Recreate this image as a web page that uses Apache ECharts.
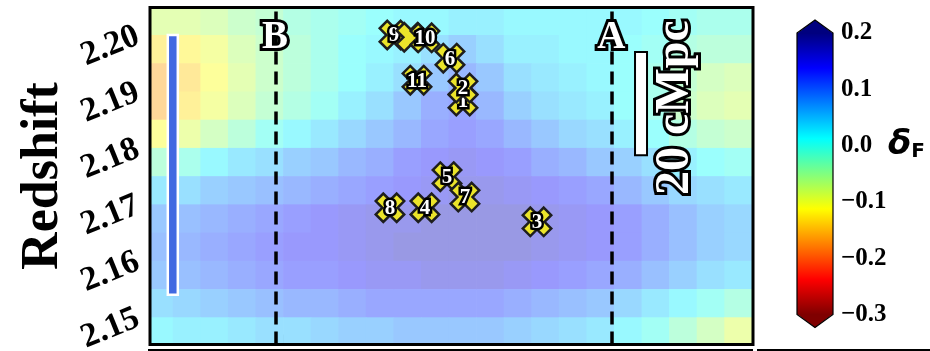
<!DOCTYPE html>
<html>
<head>
<meta charset="utf-8">
<script src="https://cdn.jsdelivr.net/npm/echarts@6/dist/echarts.min.js"></script>
<style>
  html, body { margin: 0; padding: 0; background: #fff; }
  #chart { width: 930px; height: 351px; }
</style>
</head>
<body>
<div id="chart"></div>
<script>
// Transverse position of each map column (one unit per x tick)
const colX = [-0.125, 0.125, 0.375, 0.625, 0.875, 1.125, 1.375, 1.625, 1.875, 2.125, 2.375, 2.625,
              2.875, 3.125, 3.375, 3.625, 3.875, 4.125, 4.375, 4.625, 4.875, 5.125, 5.375];
// Redshift of each map row, top to bottom
const rowZ = [2.2025, 2.1975, 2.1925, 2.1875, 2.1825, 2.1775, 2.1725, 2.1675, 2.1625, 2.1575, 2.1525, 2.1475];
// Flux contrast delta_F per cell, one row per redshift above
const deltaF = [
  [-0.08,-0.08,-0.07,-0.05,-0.04,-0.02,-0.01, 0.00, 0.01, 0.02, 0.02, 0.03, 0.03, 0.02, 0.02, 0.02, 0.02, 0.02, 0.01, 0.00,-0.01,-0.01,-0.01],
  [-0.13,-0.12,-0.10,-0.07,-0.05,-0.03,-0.01, 0.01, 0.02, 0.03, 0.05, 0.07, 0.05, 0.03, 0.03, 0.02, 0.02, 0.01, 0.00,-0.02,-0.03,-0.03,-0.03],
  [-0.16,-0.14,-0.11,-0.08,-0.05,-0.03,-0.01, 0.01, 0.03, 0.05, 0.08, 0.10, 0.08, 0.05, 0.04, 0.03, 0.02, 0.01,-0.01,-0.04,-0.06,-0.07,-0.05],
  [-0.16,-0.13,-0.10,-0.07,-0.04,-0.02, 0.00, 0.03, 0.05, 0.08, 0.11, 0.12, 0.10, 0.07, 0.05, 0.04, 0.03, 0.01,-0.01,-0.05,-0.07,-0.08,-0.06],
  [-0.11,-0.09,-0.06,-0.03, 0.00, 0.02, 0.04, 0.06, 0.08, 0.10, 0.12, 0.13, 0.12, 0.10, 0.08, 0.06, 0.05, 0.03, 0.01,-0.02,-0.04,-0.05,-0.04],
  [-0.03,-0.01, 0.02, 0.04, 0.05, 0.07, 0.08, 0.10, 0.11, 0.13, 0.14, 0.15, 0.14, 0.13, 0.11, 0.10, 0.08, 0.07, 0.05, 0.03, 0.01, 0.00, 0.00],
  [ 0.04, 0.05, 0.07, 0.08, 0.09, 0.10, 0.11, 0.12, 0.13, 0.14, 0.15, 0.16, 0.16, 0.15, 0.14, 0.13, 0.12, 0.10, 0.08, 0.06, 0.05, 0.04, 0.04],
  [ 0.08, 0.09, 0.10, 0.11, 0.12, 0.13, 0.14, 0.15, 0.16, 0.16, 0.17, 0.17, 0.17, 0.17, 0.16, 0.15, 0.14, 0.13, 0.11, 0.09, 0.07, 0.06, 0.06],
  [ 0.09, 0.10, 0.11, 0.12, 0.13, 0.14, 0.14, 0.15, 0.16, 0.17, 0.17, 0.17, 0.17, 0.17, 0.16, 0.15, 0.14, 0.13, 0.11, 0.09, 0.07, 0.06, 0.06],
  [ 0.08, 0.09, 0.10, 0.11, 0.12, 0.13, 0.13, 0.14, 0.15, 0.15, 0.16, 0.16, 0.16, 0.15, 0.14, 0.13, 0.12, 0.11, 0.09, 0.07, 0.05, 0.04, 0.04],
  [ 0.05, 0.06, 0.07, 0.08, 0.09, 0.10, 0.10, 0.11, 0.12, 0.12, 0.12, 0.12, 0.12, 0.11, 0.10, 0.09, 0.08, 0.06, 0.04, 0.02, 0.00,-0.02,-0.03],
  [ 0.02, 0.03, 0.03, 0.04, 0.05, 0.05, 0.06, 0.07, 0.07, 0.08, 0.08, 0.08, 0.08, 0.07, 0.06, 0.05, 0.04, 0.02, 0.00,-0.03,-0.06,-0.09,-0.11]
];

// Galaxies in the field: label, position, redshift (drawn in this order)
const galaxyIds = ['1', '2', '3', '4', '5', '6', '7', '8', '9', '', '10', '11'];
const galaxyX   = [2.631, 2.631, 3.302, 2.286, 2.486, 2.513, 2.649, 1.969, 2.005, 2.159, 2.286, 2.214];
const galaxyZ   = [2.1883, 2.1906, 2.1669, 2.1694, 2.1749, 2.1959, 2.1713, 2.1694, 2.2000, 2.1996, 2.1995, 2.1920];

// Sightlines marked across the map
const sightNames = ['B', 'A'];
const sightX = [0.927, 3.975];
const sightLabelZ = 2.1995;

// Redshift extent bar on the left and comoving scale bar on the right
const zBarX = 0.0, zBarRange = [2.1540, 2.2000];
const scaleBarX = 4.245, scaleBarRange = [2.1787, 2.1970];
const scaleLabel = '20 cMpc';

// Axis ticks
const xTicks = [0, 1, 2, 3, 4, 5];
const zTicks = [2.15, 2.16, 2.17, 2.18, 2.19, 2.20];
const cbarTicks = [-0.3, -0.2, -0.1, 0.0, 0.1, 0.2];

// Reversed jet colour map, evenly spaced from -0.3 to 0.2
const jetR = ['#7f0000', '#ff0000', '#ff8000', '#ffff00', '#80ff80', '#00ffff', '#0080ff', '#0000ff', '#00007f'];
const mapAlpha = 0.4;
function overWhite(hex, a) {
  const n = parseInt(hex.slice(1), 16);
  const c = [(n >> 16) & 255, (n >> 8) & 255, n & 255].map(v => Math.round(255 * (1 - a) + v * a));
  return 'rgb(' + c.join(',') + ')';
}
const mapColors = jetR.map(c => overWhite(c, mapAlpha));

const cellW = colX[1] - colX[0];
const cellH = rowZ[0] - rowZ[1];
const heatData = [];
rowZ.forEach((z, j) => colX.forEach((x, i) => heatData.push([x, z, deltaF[j][i]])));

const serif = 'Liberation Serif';

// Outlined white lettering: black stroke laid down first, fill on top
function outlinedText(text, size, strokeW) {
  return {
    text: text, align: 'center', verticalAlign: 'middle',
    font: 'bold ' + size + 'px "' + serif + '"',
    fill: '#fff', stroke: '#000', lineWidth: strokeW, strokeFirst: true, lineJoin: 'round'
  };
}

function clipToGrid(r, cs) {
  return echarts.graphic.clipRectByRect(r, { x: cs.x, y: cs.y, width: cs.width, height: cs.height });
}

function renderCell(params, api) {
  const x = api.value(0), z = api.value(1);
  const p0 = api.coord([x - cellW / 2, z + cellH / 2]);
  const p1 = api.coord([x + cellW / 2, z - cellH / 2]);
  const shape = clipToGrid({ x: p0[0], y: p0[1], width: p1[0] - p0[0] + 0.7, height: p1[1] - p0[1] + 0.7 }, params.coordSys);
  return shape && { type: 'rect', shape: shape, style: { fill: api.visual('color') } };
}

function xMarkPoints(cx, cy, r, a) {
  const base = [[-a, -1], [a, -1], [a, -a], [1, -a], [1, a], [a, a], [a, 1], [-a, 1], [-a, a], [-1, a], [-1, -a], [-a, -a]];
  const c = Math.SQRT1_2;
  return base.map(([u, v]) => [cx + r * c * (u - v), cy + r * c * (u + v)]);
}

function renderGalaxy(params, api) {
  const p = api.coord([api.value(0), api.value(1)]);
  const label = galaxyIds[params.dataIndex];
  const children = [{
    type: 'polygon',
    shape: { points: xMarkPoints(p[0], p[1], 14.8, 0.36) },
    style: { fill: '#ebe42a', stroke: '#1e1e1e', lineWidth: 2.5, lineJoin: 'miter' }
  }];
  if (label) {
    children.push({ type: 'text', x: p[0], y: p[1] + 1, style: outlinedText(label, 21, 5) });
  }
  return { type: 'group', children: children };
}

function renderSight(params, api) {
  const p = api.coord([api.value(0), api.value(1)]);
  return { type: 'text', x: p[0], y: p[1], style: outlinedText(sightNames[params.dataIndex], 39, 6) };
}

function renderBar(params, api) {
  const x = api.value(0);
  const top = api.coord([x, api.value(2)]);
  const bot = api.coord([x, api.value(1)]);
  const isScale = params.dataIndex === 1;
  const w = isScale ? 12 : 10;
  const children = [{
    type: 'rect',
    shape: { x: top[0] - w / 2, y: top[1], width: w, height: bot[1] - top[1] },
    style: isScale ? { fill: '#fff', stroke: '#000', lineWidth: 2 }
                   : { fill: '#4169e1', stroke: '#fff', lineWidth: 2.5 }
  }];
  if (isScale) {
    children.push({
      type: 'text',
      x: top[0] + 35, y: (top[1] + bot[1]) / 2 + 4,
      rotation: Math.PI / 2,
      style: outlinedText(scaleLabel, 48, 6)
    });
  }
  return { type: 'group', children: children };
}

function renderColorbar(params, api) {
  const cs = params.coordSys;
  const top = api.coord([0, api.value(2)])[1];
  const bot = api.coord([0, api.value(1)])[1];
  const l = cs.x, w = cs.width, tip = 13;
  const n = jetR.length - 1;
  const stops = jetR.map((c, i) => ({ offset: 1 - i / n, color: c }));
  stops.reverse();
  return {
    type: 'group',
    children: [
      { type: 'rect', shape: { x: l, y: top, width: w, height: bot - top },
        style: { fill: new echarts.graphic.LinearGradient(0, 0, 0, 1, stops) } },
      { type: 'polygon', shape: { points: [[l, top + 0.5], [l + w / 2, top - tip], [l + w, top + 0.5]] },
        style: { fill: jetR[n] } },
      { type: 'polygon', shape: { points: [[l, bot - 0.5], [l + w / 2, bot + tip], [l + w, bot - 0.5]] },
        style: { fill: jetR[0] } },
      { type: 'polygon', shape: { points: [[l, top], [l + w / 2, top - tip], [l + w, top], [l + w, bot], [l + w / 2, bot + tip], [l, bot]] },
        style: { fill: 'none', stroke: '#000', lineWidth: 1.2 } }
    ]
  };
}

const chart = echarts.init(document.getElementById('chart'), null, { renderer: 'canvas' });

const fmtCbar = v => {
  const r = Math.round(v * 10) / 10;
  return (r < 0 ? '\u2212' : '') + Math.abs(r).toFixed(1);
};

chart.setOption({
  animation: false,
  backgroundColor: '#fff',
  grid: [
    { left: 150, top: 7.5, width: 603, height: 337, outerBoundsMode: 'none', containLabel: false },
    { left: 797, top: 33, width: 36, height: 281.5, outerBoundsMode: 'none', containLabel: false }
  ],
  xAxis: [
    {
      type: 'value', gridIndex: 0, min: -0.2067, max: 5.2602,
      axisLine: { show: false }, splitLine: { show: false },
      axisLabel: { show: false },
      axisTick: { show: true, inside: true, length: 10, customValues: xTicks, lineStyle: { color: '#000', width: 2.5 } }
    },
    { type: 'value', gridIndex: 1, min: -1, max: 1, show: false }
  ],
  yAxis: [
    {
      type: 'value', gridIndex: 0, min: 2.14518, max: 2.20487,
      axisLine: { show: false }, splitLine: { show: false },
      axisTick: { show: true, inside: true, length: 10, customValues: zTicks, lineStyle: { color: '#000', width: 2.5 } },
      axisLabel: {
        show: true, customValues: zTicks, rotate: 22, margin: 12,
        formatter: v => v.toFixed(2),
        color: '#000', fontFamily: serif, fontWeight: 'bold', fontSize: 34
      }
    },
    {
      type: 'value', gridIndex: 1, min: -0.3, max: 0.2, interval: 0.1, position: 'right',
      axisLine: { show: false }, splitLine: { show: false },
      axisTick: { show: true, length: 5, lineStyle: { color: '#000', width: 1.5 } },
      axisLabel: { color: '#000', fontFamily: serif, fontWeight: 'bold', fontSize: 25, margin: 8, formatter: fmtCbar }
    }
  ],
  visualMap: {
    show: false, type: 'continuous', seriesIndex: 0, dimension: 2,
    min: -0.3, max: 0.2, inRange: { color: mapColors }
  },
  series: [
    {
      name: 'delta_F', type: 'custom', xAxisIndex: 0, yAxisIndex: 0, z: 1,
      renderItem: renderCell, data: heatData, silent: true
    },
    {
      name: 'sightlines', type: 'custom', xAxisIndex: 0, yAxisIndex: 0, z: 3,
      renderItem: renderSight, silent: true,
      data: sightX.map(x => [x, sightLabelZ]),
      markLine: {
        silent: true, symbol: 'none', z: 2,
        label: { show: false },
        lineStyle: { color: '#000', width: 3.5, type: [13, 7] },
        data: sightX.map(x => ({ xAxis: x }))
      }
    },
    {
      name: 'bars', type: 'custom', xAxisIndex: 0, yAxisIndex: 0, z: 4,
      renderItem: renderBar, silent: true,
      data: [[zBarX, zBarRange[0], zBarRange[1]], [scaleBarX, scaleBarRange[0], scaleBarRange[1]]]
    },
    {
      name: 'galaxies', type: 'custom', xAxisIndex: 0, yAxisIndex: 0, z: 5,
      renderItem: renderGalaxy, silent: true,
      data: galaxyX.map((x, i) => [x, galaxyZ[i]])
    },
    {
      name: 'colorbar', type: 'custom', xAxisIndex: 1, yAxisIndex: 1, z: 2,
      renderItem: renderColorbar, silent: true,
      data: [[0, cbarTicks[0], cbarTicks[cbarTicks.length - 1]]]
    }
  ],
  graphic: [
    { type: 'rect', z: 100, silent: true, shape: { x: 150, y: 7.5, width: 603, height: 337 },
      style: { fill: 'none', stroke: '#000', lineWidth: 3 } },
    { type: 'text', z: 100, x: 44, y: 176, rotation: Math.PI / 2, silent: true,
      style: { text: 'Redshift', align: 'center', verticalAlign: 'middle',
               font: 'bold 52px "' + serif + '"', fill: '#000' } },
    { type: 'text', z: 100, x: 888, y: 162, silent: true,
      style: {
        text: '{d|δ}{s|F}', align: 'left', verticalAlign: 'bottom',
        rich: {
          d: { fontFamily: 'DejaVu Sans', fontStyle: 'italic', fontWeight: 'bold', fontSize: 34, fill: '#000' },
          s: { fontFamily: 'DejaVu Sans', fontWeight: 'bold', fontSize: 20, fill: '#000', verticalAlign: 'bottom' }
        }
      } },
    { type: 'line', z: 100, silent: true, shape: { x1: 148, y1: 350, x2: 753, y2: 350 },
      style: { stroke: '#000', lineWidth: 2 } },
    { type: 'line', z: 100, silent: true, shape: { x1: 757, y1: 350, x2: 930, y2: 350 },
      style: { stroke: '#000', lineWidth: 2 } }
  ]
});
</script>
</body>
</html>
